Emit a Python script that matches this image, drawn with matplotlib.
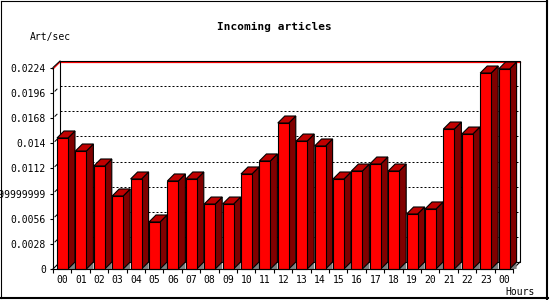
import matplotlib
matplotlib.use("Agg")
import matplotlib.pyplot as plt
from matplotlib.patches import Polygon, Rectangle
from matplotlib.lines import Line2D

# data
hours = ["00", "01", "02", "03", "04", "05", "06", "07", "08", "09", "10", "11",
         "12", "13", "14", "15", "16", "17", "18", "19", "20", "21", "22", "23", "00"]
rates = [0.0146, 0.01315, 0.01148, 0.00814, 0.01003, 0.00524, 0.00981, 0.01003,
         0.00724, 0.00724, 0.01059, 0.01204, 0.01627, 0.01426, 0.01371, 0.01003,
         0.01092, 0.0117, 0.01092, 0.00613, 0.00669, 0.0156, 0.01504, 0.02184, 0.02229]
y_ticks = [0, 0.0028, 0.0056, 0.0084, 0.0112, 0.014, 0.0168, 0.0196, 0.0224]
y_labels = ["0", "0.0028", "0.0056", "0.008399999999", "0.0112", "0.014",
            "0.0168", "0.0196", "0.0224"]
y_max = 0.0224

W, H = 550, 300
fig = plt.figure(figsize=(5.5, 3), dpi=100)
fig.patch.set_facecolor("white")

# front plot area in pixels: x 53..513, y 68..269 (from top)
ax = fig.add_axes([53 / W, (H - 269) / H, 460 / W, 201 / H])
ax.set_xlim(0, len(rates))
ax.set_ylim(0, y_max)
ax.set_facecolor("none")

n = len(rates)
px_x = n / 460.0          # data units per pixel, x
px_y = y_max / 201.0      # data units per pixel, y
dx = 7 * px_x
dy = 7 * px_y

# back wall
ax.add_patch(Rectangle((dx, dy), n, y_max, facecolor="white", edgecolor="none",
                       clip_on=False, zorder=0))
for v in y_ticks[1:-1]:
    ax.add_line(Line2D([dx, n + dx], [v + dy, v + dy], color="black", lw=0.72,
                       linestyle=(0, (2, 2)), clip_on=False, zorder=1))
    # small mark on the left wall
    ax.add_line(Line2D([2 / 7 * dx, 4 / 7 * dx], [v + 2 / 7 * dy, v + 4 / 7 * dy],
                       color="black", lw=0.72, clip_on=False, zorder=1))
# red max line
ax.add_line(Line2D([dx, n + dx], [y_max + dy - px_y, y_max + dy - px_y], color="red",
                   lw=0.9, clip_on=False, zorder=1))
ax.add_line(Line2D([0, dx], [y_max - px_y, y_max + dy - px_y], color="red",
                   lw=0.9, clip_on=False, zorder=1))
# wall outline
ax.add_patch(Rectangle((dx, dy), n, y_max, facecolor="none", edgecolor="black",
                       lw=0.8, clip_on=False, zorder=2))
ax.add_line(Line2D([0, dx], [y_max + px_y * 0.5, y_max + dy], color="black",
                   lw=0.8, clip_on=False, zorder=2))
ax.add_line(Line2D([0, dx], [0, dy], color="black", lw=0.8, clip_on=False, zorder=2))
ax.add_line(Line2D([n, n + dx], [0, dy], color="black", lw=0.8, clip_on=False, zorder=2))

# 3d bars
for i, v in enumerate(rates):
    x0 = i + 0.217
    x1 = i + 0.815
    ax.add_patch(Polygon([(x1, 0), (x1 + dx, dy), (x1 + dx, 0)], closed=True,
                         facecolor="#808080", edgecolor="none", clip_on=False, zorder=3))
    ax.add_patch(Polygon([(x1, 0), (x1, v), (x1 + dx, v + dy), (x1 + dx, dy)], closed=True,
                         facecolor="#800000", edgecolor="black", lw=0.8,
                         clip_on=False, zorder=4))
    ax.add_patch(Polygon([(x0, v), (x1, v), (x1 + dx, v + dy), (x0 + dx, v + dy)],
                         closed=True, facecolor="#c00000", edgecolor="black", lw=0.8,
                         clip_on=False, zorder=4))
    ax.add_patch(Rectangle((x0, 0), x1 - x0, v, facecolor="red", edgecolor="black",
                           lw=0.8, clip_on=False, zorder=5))

# axes, ticks and labels
for side in ["top", "right"]:
    ax.spines[side].set_visible(False)
for side in ["left", "bottom"]:
    ax.spines[side].set_linewidth(0.8)
    ax.spines[side].set_zorder(6)

mono = "DejaVu Sans Mono"
ax.set_yticks(y_ticks)
ax.set_yticklabels(y_labels, fontfamily=mono, fontsize=7)
ax.tick_params(axis="y", direction="out", length=2.2, width=0.8, pad=2.8)

ax.set_xticks(range(n + 1))
ax.set_xticklabels([])
ax.set_xticks([i + 0.516 for i in range(n)], minor=True)
ax.set_xticklabels(hours, minor=True, fontfamily=mono, fontsize=7)
ax.tick_params(axis="x", which="major", direction="out", length=3, width=0.8)
ax.tick_params(axis="x", which="minor", length=0, pad=4.2)

fig.text(274 / W, 1 - 27 / H, "Incoming articles", ha="center", va="center",
         fontfamily=mono, fontsize=8, fontweight="bold")
fig.text(30 / W, 1 - 37 / H, "Art/sec", ha="left", va="center",
         fontfamily=mono, fontsize=7)
fig.text(505 / W, 1 - 292 / H, "Hours", ha="left", va="center",
         fontfamily=mono, fontsize=7)

# image border
fig.add_artist(Line2D([0.5 / W, 547 / W], [1 - 0.5 / H, 1 - 0.5 / H], color="black",
                      lw=0.8, transform=fig.transFigure))
fig.add_artist(Line2D([0.5 / W, 0.5 / W], [1 - 0.5 / H, 1 - 298 / H], color="black",
                      lw=0.8, transform=fig.transFigure))
fig.add_artist(Line2D([547 / W, 547 / W], [1, 1 - 298.5 / H], color="black",
                      lw=1.5, transform=fig.transFigure))
fig.add_artist(Line2D([0, 548 / W], [1 - 298 / H, 1 - 298 / H], color="black",
                      lw=1.5, transform=fig.transFigure))

fig.savefig("out.png", dpi=100)
